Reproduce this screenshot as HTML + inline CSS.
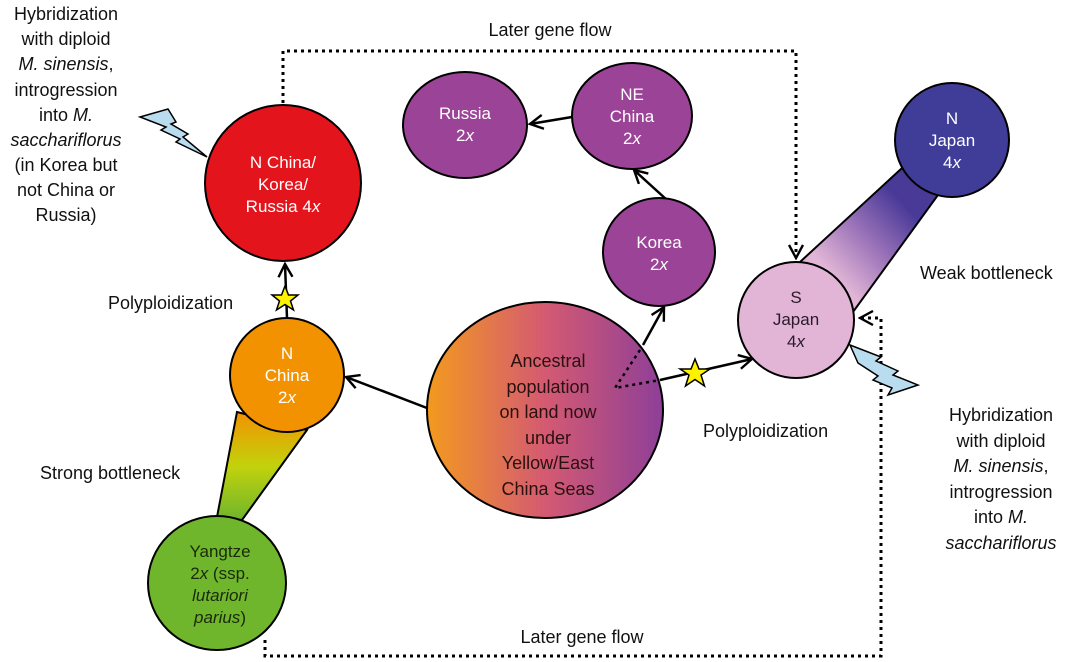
<!DOCTYPE html>
<html><head><meta charset="utf-8"><style>
html,body{margin:0;padding:0;background:#fff;}
svg{display:block;font-family:"Liberation Sans",Arial,sans-serif;}
</style></head><body>
<svg width="1080" height="662" viewBox="0 0 1080 662" xmlns="http://www.w3.org/2000/svg">
<defs>
<linearGradient id="anc" x1="0" x2="1" y1="0" y2="0">
<stop offset="0" stop-color="#f39a1e"/><stop offset="0.5" stop-color="#d45a72"/><stop offset="1" stop-color="#8e3f98"/>
</linearGradient>
<linearGradient id="cone1" x1="0" y1="0" x2="0" y2="1">
<stop offset="0" stop-color="#f39200"/><stop offset="0.5" stop-color="#c2d20c"/><stop offset="1" stop-color="#6fb62c"/>
</linearGradient>
<linearGradient id="cone2" x1="1" y1="0" x2="0" y2="1">
<stop offset="0.25" stop-color="#4a3a98"/><stop offset="0.5" stop-color="#9a72b8"/><stop offset="0.75" stop-color="#e1b5d6"/>
</linearGradient>
<marker id="ah2" viewBox="0 0 16 16" refX="14" refY="8" markerWidth="16" markerHeight="16" markerUnits="userSpaceOnUse" orient="auto">
<path d="M1,1 L14,8 L1,15" fill="none" stroke="#000" stroke-width="2.4"/>
</marker>
</defs>

<path d="M283,103 V51 H796 V258" fill="none" stroke="#000" stroke-width="3" stroke-dasharray="3,4" marker-end="url(#ah2)"/>
<path d="M265,640 V656 H881 V318 H860" fill="none" stroke="#000" stroke-width="3" stroke-dasharray="3,4" marker-end="url(#ah2)"/>

<polygon points="237,412 307,430 242,520 217,517" fill="url(#cone1)" stroke="#000" stroke-width="2"/>
<polygon points="902,168 938,195 853,312 800,262" fill="url(#cone2)" stroke="#000" stroke-width="2"/>

<line x1="287" y1="318" x2="285" y2="264" stroke="#000" stroke-width="2.5" marker-end="url(#ah2)"/>
<line x1="427" y1="408" x2="346" y2="377" stroke="#000" stroke-width="2.5" marker-end="url(#ah2)"/>
<line x1="643" y1="345" x2="664" y2="307" stroke="#000" stroke-width="2.5" marker-end="url(#ah2)"/>
<line x1="667" y1="200" x2="634" y2="170" stroke="#000" stroke-width="2.5" marker-end="url(#ah2)"/>
<line x1="572" y1="117" x2="530" y2="124" stroke="#000" stroke-width="2.5" marker-end="url(#ah2)"/>
<line x1="660" y1="380" x2="752" y2="359" stroke="#000" stroke-width="2.5" marker-end="url(#ah2)"/>

<ellipse cx="545" cy="410" rx="118" ry="108" fill="url(#anc)" stroke="#000" stroke-width="2"/>
<path d="M640,350 L615,388 L660,380" fill="none" stroke="#000" stroke-width="2.5" stroke-dasharray="3,4"/>
<circle cx="283" cy="183" r="78" fill="#e3141b" stroke="#000" stroke-width="2"/>
<circle cx="287" cy="375" r="57" fill="#f39200" stroke="#000" stroke-width="2"/>
<ellipse cx="217" cy="583" rx="69" ry="67" fill="#6fb62c" stroke="#000" stroke-width="2"/>
<ellipse cx="465" cy="125" rx="62" ry="53" fill="#9b4396" stroke="#000" stroke-width="2"/>
<ellipse cx="632" cy="116" rx="60" ry="53" fill="#9b4396" stroke="#000" stroke-width="2"/>
<ellipse cx="659" cy="252" rx="56" ry="54" fill="#9b4396" stroke="#000" stroke-width="2"/>
<circle cx="952" cy="140" r="57" fill="#3f3d97" stroke="#000" stroke-width="2"/>
<circle cx="796" cy="320" r="58" fill="#e2b5d6" stroke="#000" stroke-width="2"/>

<polygon points="285,286 288.5,295 298,295 290.5,301 293.5,310 285,304.5 276.5,310 279.5,301 272,295 281.5,295" fill="#fff200" stroke="#000" stroke-width="1.5"/>
<polygon points="695,359 699,369 710,369 701,375 704.5,386 695,379.5 685.5,386 689,375 680,369 691,369" fill="#fff200" stroke="#000" stroke-width="1.5"/>

<polygon points="140,117 168,109 176,122 171,124 188,134 183,137 207,157 176,142 180,139 161,130 166,127" fill="#b9dcee" stroke="#000" stroke-width="1.5"/>
<polygon points="850,345 881,357 876,361 898,371 893,375 918,385 888,395 892,388 873,380 878,376 858,363" fill="#b9dcee" stroke="#000" stroke-width="1.5"/>

<g font-size="17" fill="#fff" text-anchor="middle">
<text x="283" y="168">N China/</text>
<text x="283" y="190">Korea/</text>
<text x="283" y="212">Russia 4<tspan font-style="italic">x</tspan></text>
<text x="287" y="359">N</text>
<text x="287" y="381">China</text>
<text x="287" y="403">2<tspan font-style="italic">x</tspan></text>
<text x="465" y="119">Russia</text>
<text x="465" y="141">2<tspan font-style="italic">x</tspan></text>
<text x="632" y="100">NE</text>
<text x="632" y="122">China</text>
<text x="632" y="144">2<tspan font-style="italic">x</tspan></text>
<text x="659" y="248">Korea</text>
<text x="659" y="270">2<tspan font-style="italic">x</tspan></text>
<text x="952" y="124">N</text>
<text x="952" y="146">Japan</text>
<text x="952" y="168">4<tspan font-style="italic">x</tspan></text>
</g>
<g font-size="17" fill="#2a1a2a" text-anchor="middle">
<text x="796" y="303">S</text>
<text x="796" y="325">Japan</text>
<text x="796" y="347">4<tspan font-style="italic">x</tspan></text>
</g>
<g font-size="17" fill="#1a2a0a" text-anchor="middle">
<text x="220" y="557">Yangtze</text>
<text x="220" y="579">2<tspan font-style="italic">x</tspan> (ssp.</text>
<text x="220" y="601" font-style="italic">lutariori</text>
<text x="220" y="623"><tspan font-style="italic">parius</tspan>)</text>
</g>
<g font-size="18" fill="#2a1010" text-anchor="middle">
<text x="548" y="367">Ancestral</text>
<text x="548" y="393">population</text>
<text x="548" y="418">on land now</text>
<text x="548" y="444">under</text>
<text x="548" y="469">Yellow/East</text>
<text x="548" y="495">China Seas</text>
</g>

<g font-size="18" fill="#111">
<text x="550" y="36" text-anchor="middle">Later gene flow</text>
<text x="582" y="643" text-anchor="middle">Later gene flow</text>
<text x="108" y="309">Polyploidization</text>
<text x="703" y="437">Polyploidization</text>
<text x="40" y="479">Strong bottleneck</text>
<text x="920" y="279">Weak bottleneck</text>
</g>
<g font-size="18" fill="#111" text-anchor="middle">
<text x="66" y="20">Hybridization</text>
<text x="66" y="45">with diploid</text>
<text x="66" y="70"><tspan font-style="italic">M. sinensis</tspan>,</text>
<text x="66" y="96">introgression</text>
<text x="66" y="121">into <tspan font-style="italic">M.</tspan></text>
<text x="66" y="146" font-style="italic">sacchariflorus</text>
<text x="66" y="171">(in Korea but</text>
<text x="66" y="196">not China or</text>
<text x="66" y="221">Russia)</text>
<text x="1001" y="421">Hybridization</text>
<text x="1001" y="447">with diploid</text>
<text x="1001" y="472"><tspan font-style="italic">M. sinensis</tspan>,</text>
<text x="1001" y="498">introgression</text>
<text x="1001" y="523">into <tspan font-style="italic">M.</tspan></text>
<text x="1001" y="549" font-style="italic">sacchariflorus</text>
</g>
</svg>
</body></html>
